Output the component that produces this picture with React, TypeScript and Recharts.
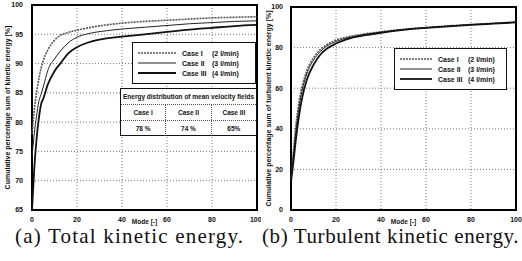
import { LineChart, Line, XAxis, YAxis, CartesianGrid, ReferenceArea } from 'recharts';

const modes = [0, 1, 2, 3, 4, 5, 7, 10, 13, 16, 20, 25, 33, 40, 50, 60, 70, 80, 90, 100];

const totalCaseI = [78, 82, 85, 87.3, 89.2, 90.5, 92.3, 94.0, 94.9, 95.3, 95.7, 96.1, 96.6, 96.9, 97.2, 97.4, 97.6, 97.8, 97.9, 98.0];
const totalCaseII = [74, 78, 81, 83.5, 84.7, 86, 88.8, 90.8, 92.3, 93.5, 94.5, 95.1, 95.6, 95.9, 96.2, 96.5, 96.8, 97.0, 97.2, 97.3];
const totalCaseIII = [65, 72, 77, 80.5, 83, 84, 86.4, 88.7, 90.2, 91.7, 92.8, 93.6, 94.3, 94.6, 95.0, 95.4, 95.8, 96.1, 96.4, 96.6];

const turbCaseI = [16, 28, 40, 49, 56, 61, 68.5, 75, 79, 81.5, 83.7, 85.2, 86.8, 87.8, 89, 89.9, 90.7, 91.4, 92, 92.6];
const turbCaseII = [15, 26, 37, 46, 53.5, 59, 67, 73.8, 78, 80.8, 83, 84.8, 86.5, 87.6, 88.9, 89.8, 90.6, 91.3, 91.9, 92.5];
const turbCaseIII = [14, 23, 33, 42, 49.5, 55.5, 64, 71.5, 76.5, 79.5, 82, 84.2, 86.1, 87.3, 88.7, 89.7, 90.5, 91.2, 91.8, 92.4];

const xTicks = [0, 20, 40, 60, 80, 100];
const totalTicks = [65, 70, 75, 80, 85, 90, 95, 100];
const turbTicks = [0, 20, 40, 60, 80, 100];

const caseNames = ['Case I', 'Case II', 'Case III'];
const flowRates = ['(2 l/min)', '(3 l/min)', '(4 l/min)'];
const meanEnergy = ['78 %', '74 %', '65%'];

const totalData = modes.map((m, i) => ({ mode: m, c1: totalCaseI[i], c2: totalCaseII[i], c3: totalCaseIII[i] }));
const turbData = modes.map((m, i) => ({ mode: m, c1: turbCaseI[i], c2: turbCaseII[i], c3: turbCaseIII[i] }));

const FONT = '"Liberation Sans", Arial, sans-serif';
const SERIF = '"Liberation Serif", "Times New Roman", serif';
const tickStyle = { fontSize: 7, fill: '#111', fontWeight: 700, fontFamily: FONT };

const LINE_STYLES = [
    { stroke: '#555', strokeWidth: 1.6, dash: '2 1' },
    { stroke: '#222', strokeWidth: 1, dash: undefined },
    { stroke: '#111', strokeWidth: 1.8, dash: undefined },
];

function CaseLegend({ left, top, width, lineLen }: { left: number; top: number; width: number; lineLen: number }) {
    return (
        <div style={{ position: 'absolute', left, top, width, background: '#fff', border: '1.5px solid #111', padding: '5px 4px', boxSizing: 'border-box', fontFamily: FONT }}>
            {caseNames.map((name, i) => (
                <div key={name} style={{ display: 'flex', alignItems: 'center', height: 10, fontSize: 7, fontWeight: 700, color: '#111', whiteSpace: 'nowrap' }}>
                    <svg width={lineLen + 4} height={6}>
                        <line x1={1} y1={3} x2={lineLen + 1} y2={3} stroke={LINE_STYLES[i].stroke} strokeWidth={LINE_STYLES[i].strokeWidth} strokeDasharray={LINE_STYLES[i].dash} />
                    </svg>
                    <span style={{ marginLeft: 3, width: 30 }}>{name}</span>
                    <span>{flowRates[i]}</span>
                </div>
            ))}
        </div>
    );
}

function Lines() {
    return [0, 1, 2].map((i) => (
        <Line
            key={i}
            type="monotone"
            dataKey={`c${i + 1}`}
            stroke={LINE_STYLES[i].stroke}
            strokeWidth={LINE_STYLES[i].strokeWidth}
            strokeDasharray={LINE_STYLES[i].dash}
            dot={false}
            isAnimationActive={false}
        />
    ));
}

export default function App() {
    return (
        <div style={{ position: 'absolute', left: 0, top: 0, width: 522, height: 261, background: '#fff', overflow: 'hidden' }}>
            <div style={{ position: 'absolute', left: 0, top: 0 }}>
                <LineChart width={261} height={230} data={totalData} margin={{ top: 5, right: 4, left: 0, bottom: 0 }}>
                    <CartesianGrid stroke="#777" strokeDasharray="1 2" />
                    <XAxis
                        dataKey="mode"
                        type="number"
                        domain={[0, 100]}
                        ticks={xTicks}
                        tick={tickStyle}
                        tickLine={false}
                        axisLine={false}
                        height={20}
                        tickMargin={1}
                        label={{ value: 'Mode [-]', position: 'insideBottom', offset: 6, style: { ...tickStyle, fontSize: 6.5 } }}
                    />
                    <YAxis
                        type="number"
                        domain={[65, 100]}
                        ticks={totalTicks}
                        tick={tickStyle}
                        tickLine={false}
                        axisLine={false}
                        width={32}
                        tickMargin={3}
                        label={{ value: 'Cumulative percentage sum of kinetic energy [%]', angle: -90, position: 'insideLeft', offset: 8, style: { ...tickStyle, fontSize: 7, textAnchor: 'middle' } }}
                    />
                    <ReferenceArea x1={0} x2={100} y1={65} y2={100} fill="none" stroke="#000" strokeWidth={2} />
                    {Lines()}
                </LineChart>
            </div>
            <CaseLegend left={132} top={42} width={124} lineLen={38} />
            <div style={{ position: 'absolute', left: 120, top: 88, width: 137, height: 48, background: '#fff', border: '1.5px solid #111', boxSizing: 'border-box', fontFamily: FONT, fontWeight: 700, fontSize: 6.5, color: '#111' }}>
                <div style={{ height: 15, lineHeight: '15px', paddingLeft: 2, borderBottom: '1px dotted #555', whiteSpace: 'nowrap' }}>
                    Energy distribution of mean velocity fields
                </div>
                {[caseNames, meanEnergy].map((row, r) => (
                    <div key={r} style={{ display: 'flex', height: 15, lineHeight: '15px', borderBottom: r === 0 ? '1px dotted #555' : 'none' }}>
                        {row.map((cell, c) => (
                            <div key={c} style={{ flex: 1, textAlign: 'center', borderLeft: c > 0 ? '1px dotted #555' : 'none' }}>{cell}</div>
                        ))}
                    </div>
                ))}
            </div>

            <div style={{ position: 'absolute', left: 261, top: 0 }}>
                <LineChart width={261} height={230} data={turbData} margin={{ top: 7, right: 6, left: 0, bottom: 0 }}>
                    <CartesianGrid stroke="#777" strokeDasharray="1 2" />
                    <XAxis
                        dataKey="mode"
                        type="number"
                        domain={[0, 100]}
                        ticks={xTicks}
                        tick={tickStyle}
                        tickLine={false}
                        axisLine={false}
                        height={20}
                        tickMargin={1}
                        label={{ value: 'Mode [-]', position: 'insideBottom', offset: 6, style: { ...tickStyle, fontSize: 6.5 } }}
                    />
                    <YAxis
                        type="number"
                        domain={[0, 100]}
                        ticks={turbTicks}
                        tick={tickStyle}
                        tickLine={false}
                        axisLine={false}
                        width={30}
                        tickMargin={2}
                        label={{ value: 'Cumulative percentage sum of turbulent kinetic energy [%]', angle: -90, position: 'insideLeft', offset: 8, style: { ...tickStyle, fontSize: 7, textAnchor: 'middle' } }}
                    />
                    <ReferenceArea x1={0} x2={100} y1={0} y2={100} fill="none" stroke="#000" strokeWidth={2} />
                    {Lines()}
                </LineChart>
            </div>
            <CaseLegend left={394} top={48} width={113} lineLen={32} />

            <div style={{ position: 'absolute', left: 15, top: 228, fontFamily: SERIF, fontSize: 21, lineHeight: '16px', letterSpacing: 1.2, color: '#111', whiteSpace: 'nowrap' }}>
                (a) Total kinetic energy.
            </div>
            <div style={{ position: 'absolute', left: 262, top: 228, fontFamily: SERIF, fontSize: 21, lineHeight: '16px', letterSpacing: 0.6, color: '#111', whiteSpace: 'nowrap' }}>
                (b) Turbulent kinetic energy.
            </div>
        </div>
    );
}
